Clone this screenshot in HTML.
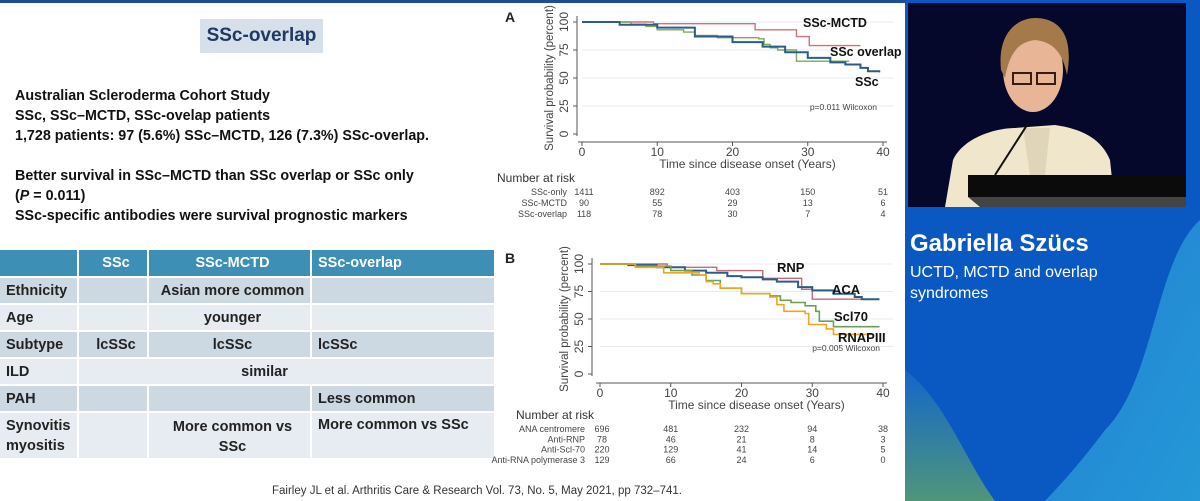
<!DOCTYPE html>
<html><head><meta charset="utf-8">
<style>
body{margin:0;width:1200px;height:501px;overflow:hidden;background:#fff;font-family:"Liberation Sans",sans-serif;position:relative}
.abs{position:absolute}
.b{font-weight:bold}
table{border-collapse:collapse;position:absolute;left:0;top:250px;font-size:14.5px;font-weight:bold;color:#222}
td,th{padding:0 0 0 6px;border-right:2px solid #fff;border-bottom:2px solid #fff;white-space:nowrap}
th{background:#3e8fb6;color:#fff;height:26px;text-align:left}
tr.d td{background:#ccd9e3}
tr.l td{background:#e6ecf1}
</style></head><body>
<div class="abs" style="left:0;top:0;width:905px;height:3px;background:#1d4d9a"></div>
<div class="abs b" style="left:200px;top:19px;width:123px;height:34px;background:#d6e0ea;color:#1f3864;font-size:19px;line-height:34px;text-align:center">SSc-overlap</div>
<div class="abs b" style="left:15px;top:86px;font-size:14.3px;line-height:20px;color:#111">
Australian Scleroderma Cohort Study<br>SSc, SSc–MCTD, SSc-ovelap patients<br>1,728 patients: 97 (5.6%) SSc–MCTD, 126 (7.3%) SSc-overlap.<br><br>Better survival in SSc–MCTD than SSc overlap or SSc only<br>(<i>P</i> = 0.011)<br>SSc-specific antibodies were survival prognostic markers</div>
<table>
<tr><th style="width:71px"></th><th style="width:62px;text-align:center">SSc</th><th style="width:155px;text-align:center">SSc-MCTD</th><th style="width:176px">SSc-overlap</th></tr>
<tr class="d" style="height:27px"><td>Ethnicity</td><td></td><td style="text-align:center">Asian more common</td><td></td></tr>
<tr class="l" style="height:27px"><td>Age</td><td></td><td style="text-align:center">younger</td><td></td></tr>
<tr class="d" style="height:27px"><td>Subtype</td><td style="text-align:center">lcSSc</td><td style="text-align:center">lcSSc</td><td>lcSSc</td></tr>
<tr class="l" style="height:27px"><td>ILD</td><td colspan="3" style="text-align:center;padding-right:50px">similar</td></tr>
<tr class="d" style="height:27px"><td>PAH</td><td></td><td></td><td>Less common</td></tr>
<tr class="l" style="height:47px"><td style="line-height:20px">Synovitis<br>myositis</td><td></td><td style="text-align:center;line-height:20px;vertical-align:top;padding-top:4px">More common vs<br>SSc</td><td style="vertical-align:top;padding-top:4px">More common vs SSc</td></tr>
</table>
<div class="abs" style="left:272px;top:485px;font-size:11.5px;color:#333">Fairley JL et al. Arthritis Care &amp; Research Vol. 73, No. 5, May 2021, pp 732–741.</div>

<svg class="abs" style="left:0;top:0" width="905" height="501" id="charts" font-family="Liberation Sans, sans-serif"></svg>

<div class="abs" style="left:905px;top:0;width:295px;height:501px;background:#0a58c2;overflow:hidden">
<svg width="295" height="501" style="position:absolute;left:0;top:0">
<defs><linearGradient id="g1" x1="0" y1="0" x2="1" y2="1"><stop offset="0" stop-color="#2c8fd8"/><stop offset="1" stop-color="#30b4e0"/></linearGradient>
<linearGradient id="g2" x1="0" y1="0" x2="0" y2="1"><stop offset="0" stop-color="#1a6fd0"/><stop offset="1" stop-color="#7dbf4a"/></linearGradient></defs>
<path d="M295 220 C250 260 250 380 200 430 C170 470 150 490 140 501 L295 501Z" fill="url(#g1)" opacity="0.7"/>
<path d="M0 370 C40 400 60 460 90 501 L0 501Z" fill="url(#g2)" opacity="0.6"/>
<rect x="3" y="3" width="278" height="204" fill="#05082a"/>
<path d="M40 207 L48 160 C60 135 95 128 110 128 L150 125 C170 128 195 135 205 160 L210 207Z" fill="#efe6cc"/>
<path d="M118 128 L125 175 L140 175 L145 128Z" fill="#e0d5b8"/>
<ellipse cx="128" cy="70" rx="30" ry="42" fill="#e8b596"/>
<path d="M96 70 C92 30 115 18 130 18 C150 18 170 30 162 75 C158 55 150 42 130 40 C112 42 104 55 100 78Z" fill="#a57a4a"/>
<rect x="108" y="73" width="18" height="11" fill="none" stroke="#3a1a14" stroke-width="2"/><rect x="132" y="73" width="18" height="11" fill="none" stroke="#3a1a14" stroke-width="2"/>
<line x1="124" y1="122" x2="90" y2="175" stroke="#111" stroke-width="2"/>
<rect x="63" y="175" width="218" height="22" fill="#0b0b0b"/>
<path d="M63 197 L281 197 L281 207 L75 207Z" fill="#444"/>
</svg>
<div class="abs b" style="left:5px;top:230px;color:#fff;font-size:24px">Gabriella Szücs</div>
<div class="abs" style="left:5px;top:262px;color:#fff;font-size:16px;line-height:21px">UCTD, MCTD and overlap<br>syndromes</div>
</div>

<script>
// Chart A data
const aTimesMCTD=[0,9.5,23,28.5,30.2,37];
const aSurvMCTD=[100,98.5,93,87,79,79];
const aTimesOver=[0,6.5,8.5,10,13.5,15,18,23.5,24.2,25,26,28.5,35.5];
const aSurvOver=[100,98,96,93,91,88,86,85,80,77,75,65,65];
const aTimesSSc=[0,5,10,15,20,24,27,30,33,35,37,38,39.5];
const aSurvSSc=[100,97.5,95,87,82,78,73,68,64,62,59,56,55];
const aRiskLabels=["SSc-only","SSc-MCTD","SSc-overlap"];
const aRisk=[[1411,892,403,150,51],[90,55,29,13,6],[118,78,30,7,4]];
// Chart B data
const bTimesRNP=[0,9.5,16.5,23,28.5,30,37];
const bSurvRNP=[100,97,94,87,77,68,68];
const bTimesACA=[0,4,8,12,15,18,20,23,25,28,30,33,36,37,39.5];
const bSurvACA=[100,99,97,94,92,89,88,86,84,79,76,73,70,68,68];
const bTimesScl=[0,5,10,13,15,17,20,24,25.5,27,29,30.5,31,33,39.5];
const bSurvScl=[100,98,94,90,85,78,73,71,67,65,62,57,48,43,43];
const bTimesRNA=[0,5,9,14,15,16,17,20,24,25,26,29,29.5,32,33,38.5];
const bSurvRNA=[100,97,92,90,84,82,78,73,70,63,57,55,45,41,36,36];
const bRiskLabels=["ANA centromere","Anti-RNP","Anti-Scl-70","Anti-RNA polymerase 3"];
const bRisk=[[696,481,232,94,38],[78,46,21,8,3],[220,129,41,14,5],[129,66,24,6,0]];
const xTicks=[0,10,20,30,40];
const yTicks=[0,25,50,75,100];

const svg=document.getElementById('charts');
const NS='http://www.w3.org/2000/svg';
function mk(tag,attrs,parent){const e=document.createElementNS(NS,tag);for(const k in attrs)e.setAttribute(k,attrs[k]);(parent||svg).appendChild(e);return e;}
function txt(x,y,s,size,anchor,fill,weight){const t=mk('text',{x:x,y:y,'font-size':size,'text-anchor':anchor||'start',fill:fill||'#333','font-weight':weight||'normal'});t.textContent=s;return t;}

function chart(cfg){
  const X=v=>cfg.x0+(cfg.x1-cfg.x0)*v/40;
  const Y=v=>cfg.y0+(cfg.y100-cfg.y0)*v/100;
  const g=mk('g',{});
  
  
  yTicks.forEach(v=>{
    if(v>0){mk('line',{x1:cfg.x0,x2:cfg.x1+10,y1:Y(v),y2:Y(v),stroke:'#e6ecef','stroke-width':1},g);}
    mk('line',{x1:cfg.ax-4,x2:cfg.ax,y1:Y(v),y2:Y(v),stroke:'#555'},g);
    const t=txt(cfg.ax-9,Y(v),String(v),12,'middle','#444');
    t.setAttribute('transform','rotate(-90 '+(cfg.ax-9)+' '+Y(v)+')');
    
    
  });
  mk('line',{x1:cfg.ax,x2:cfg.ax,y1:Y(0)+2,y2:Y(100)-6,stroke:'#555'},g);
  mk('line',{x1:X(0)-4,x2:X(40)+4,y1:cfg.axy,y2:cfg.axy,stroke:'#555'},g);
  xTicks.forEach(v=>{
    mk('line',{x1:X(v),x2:X(v),y1:cfg.axy,y2:cfg.axy+4,stroke:'#555'},g);
    const t=txt(X(v),cfg.axy+14,String(v),12,'middle','#444');
    
    
  });
  const yt=txt(cfg.ax-24,(Y(0)+Y(100))/2,'Survival probability (percent)',11.5,'middle','#444');
  yt.setAttribute('transform','rotate(-90 '+(cfg.ax-24)+' '+((Y(0)+Y(100))/2)+')');
  
  
  const xt=txt((X(0)+X(40))/2+15,cfg.axy+26,'Time since disease onset (Years)',12,'middle','#444');
  
  
  cfg.series.forEach(s=>{
    let d='M'+X(s.t[0])+' '+Y(s.v[0]);
    for(let i=1;i<s.t.length;i++){d+=' H'+X(s.t[i])+' V'+Y(s.v[i]);}
    const p=mk('path',{d:d,fill:'none',stroke:s.c,'stroke-width':s.w||1.4},g);
    
    
  });
  const pa=txt(cfg.riskX,cfg.riskY,'Number at risk',12,'start','#333');
  
  
  cfg.riskLabels.forEach((lab,i)=>{
    const yy=cfg.riskY+13+i*cfg.riskStep;
    const l=txt(cfg.labelRight,yy,lab,9,'end','#444');
    
    
    cfg.risk[i].forEach((n,j)=>{
      const t=txt(X(xTicks[j])+(j===0?2:0),yy,String(n),9,'middle','#444');
      
      
    });
  });
}

chart({name:'chart-a',x0:582,x1:883,y0:134,y100:22,ax:577,axy:142,riskY:182,riskX:497,riskStep:11,labelRight:567,
 riskLabels:aRiskLabels,risk:aRisk,
 series:[{t:aTimesMCTD,v:aSurvMCTD,c:'#d0707a',name:'line-ssc-mctd'},{t:aTimesOver,v:aSurvOver,c:'#7aa860',name:'line-ssc-overlap'},{t:aTimesSSc,v:aSurvSSc,c:'#2a5e86',w:2,name:'line-ssc'}]});
chart({name:'chart-b',x0:600,x1:883,y0:374,y100:264,ax:592,axy:383,riskY:419,riskX:516,riskStep:10.3,labelRight:585,
 riskLabels:bRiskLabels,risk:bRisk,
 series:[{t:bTimesRNP,v:bSurvRNP,c:'#c86878',name:'line-rnp'},{t:bTimesACA,v:bSurvACA,c:'#2a5e86',w:2,name:'line-aca'},{t:bTimesScl,v:bSurvScl,c:'#6e9e58',w:1.6,name:'line-scl70'},{t:bTimesRNA,v:bSurvRNA,c:'#f0a520',w:1.6,name:'line-rnapiii'}]});

const labels=[["A",505,22,14,'panel-label-a','#222'],["B",505,263,14,'panel-label-b','#222'],
["SSc-MCTD",803,27,12.5,'label-ssc-mctd','#111'],["SSc overlap",830,56,12.5,'label-ssc-overlap','#111'],["SSc",855,86,12.5,'label-ssc','#111'],
["RNP",777,272,13,'label-rnp','#111'],["ACA",832,294,13,'label-aca','#111'],["Scl70",834,321,13,'label-scl70','#111'],["RNAPIII",838,342,13,'label-rnapiii','#111']];
labels.forEach(l=>{const t=txt(l[1],l[2],l[0],l[3],'start',l[5],'bold');});
const p1=txt(877,110,'p=0.011 Wilcoxon',8.5,'end','#444');


const p2=txt(880,351,'p=0.005 Wilcoxon',8.5,'end','#444');


</script>
</body></html>
